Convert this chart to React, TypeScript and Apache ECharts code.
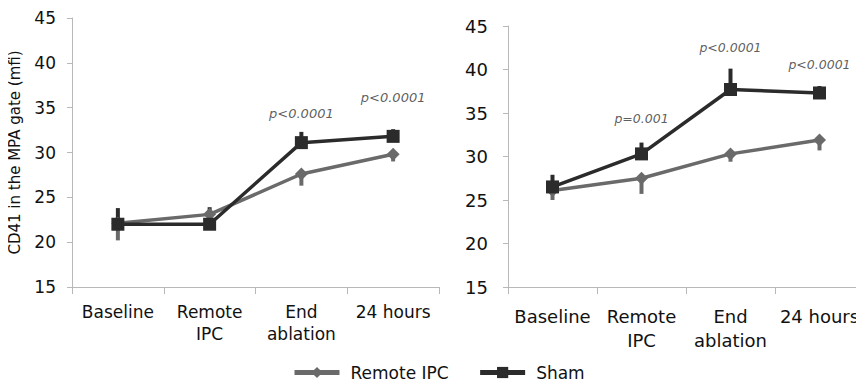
import React, { useEffect, useRef } from "react";
import * as echarts from "echarts";

const categories = ["Baseline", "Remote\nIPC", "End\nablation", "24 hours"];
const yTicks = { min: 15, max: 45, interval: 5 };

// Left panel
const leftRemote = [22.1, 23.1, 27.6, 29.8];
const leftRemoteErrMinus = [1.9, 0.4, 1.3, 0.8];
const leftSham = [22.0, 22.0, 31.1, 31.8];
const leftShamErrPlus = [1.8, 1.9, 1.2, 0.8];
const leftPLabels = ["", "", "p<0.0001", "p<0.0001"];
const leftPLabelY = [0, 0, 34.4, 36.1];

// Right panel
const rightRemote = [26.1, 27.5, 30.3, 31.9];
const rightRemoteErrMinus = [1.1, 1.8, 0.9, 1.2];
const rightSham = [26.5, 30.3, 37.7, 37.3];
const rightShamErrPlus = [1.4, 1.3, 2.4, 0.8];
const rightPLabels = ["", "p=0.001", "p<0.0001", "p<0.0001"];
const rightPLabelY = [0, 34.4, 42.5, 40.6];

const REMOTE_COLOR = "#6a6a6a";
const SHAM_COLOR = "#2b2b2b";
const AXIS_COLOR = "#b8b8b8";

function errData(vals: number[], errs: number[], sign: number) {
  return vals.map((v, i) => [i, v, v + sign * errs[i]]);
}

function errSeries(data: number[][], color: string, gi: number) {
  return {
    type: "custom",
    xAxisIndex: gi,
    yAxisIndex: gi,
    silent: true,
    z: 1,
    renderItem: (params: any, api: any) => {
      const p1 = api.coord([api.value(0), api.value(1)]);
      const p2 = api.coord([api.value(0), api.value(2)]);
      return {
        type: "line",
        shape: { x1: p1[0], y1: p1[1], x2: p2[0], y2: p2[1] },
        style: { stroke: color, lineWidth: 4 },
      };
    },
    data,
  };
}

function pSeries(labels: string[], ys: number[], gi: number, fs: number) {
  return {
    type: "scatter",
    xAxisIndex: gi,
    yAxisIndex: gi,
    symbolSize: 0,
    silent: true,
    data: labels
      .map((t, i) => ({ value: [i, ys[i]], name: t }))
      .filter((d) => d.name !== ""),
    label: {
      show: true,
      position: "inside",
      formatter: (p: any) => p.name,
      fontStyle: "italic",
      fontSize: fs,
      color: "#333",
      fontFamily: "DejaVu Sans",
    },
  };
}

export default function App() {
  const ref = useRef<HTMLDivElement>(null);
  useEffect(() => {
    if (!ref.current) return;
    const chart = echarts.init(ref.current, undefined, { renderer: "svg" });
    const xAxisBase = (gi: number, fs: number, margin: number, lh: number) => ({
      type: "category",
      gridIndex: gi,
      data: categories,
      boundaryGap: true,
      axisLine: { show: true, lineStyle: { color: AXIS_COLOR, width: 1 } },
      axisTick: { show: true, length: 7, lineStyle: { color: AXIS_COLOR } },
      axisLabel: {
        color: "#111",
        fontSize: fs,
        fontFamily: "DejaVu Sans",
        margin,
        lineHeight: lh,
        interval: 0,
      },
      splitLine: { show: false },
    });
    const yAxisBase = (gi: number, fs: number, margin: number) => ({
      type: "value",
      gridIndex: gi,
      min: yTicks.min,
      max: yTicks.max,
      interval: yTicks.interval,
      axisLine: { show: true, lineStyle: { color: AXIS_COLOR, width: 1 } },
      axisTick: { show: true, length: 5, lineStyle: { color: AXIS_COLOR } },
      axisLabel: {
        color: "#111",
        fontSize: fs,
        fontFamily: "DejaVu Sans",
        margin,
      },
      splitLine: { show: false },
    });
    const lineSeries = (
      name: string,
      data: number[],
      gi: number,
      color: string,
      symbol: string,
      size: number
    ) => ({
      name,
      type: "line",
      xAxisIndex: gi,
      yAxisIndex: gi,
      data,
      symbol,
      symbolSize: size,
      z: 3,
      lineStyle: { color, width: 3.5 },
      itemStyle: { color },
    });
    chart.setOption({
      animation: false,
      backgroundColor: "#fff",
      grid: [
        { left: 72, top: 18, width: 367, height: 269 },
        { left: 508, top: 26, width: 364, height: 261 },
      ],
      xAxis: [xAxisBase(0, 17, 14, 22), xAxisBase(1, 18, 17, 24)],
      yAxis: [
        {
          ...yAxisBase(0, 17, 16),
          name: "CD41 in the MPA gate (mfi)",
          nameLocation: "middle",
          nameGap: 50,
          nameRotate: 90,
          nameMoveOverlap: false,
          nameTextStyle: { fontSize: 15, color: "#111", fontFamily: "DejaVu Sans" },
        },
        yAxisBase(1, 18, 20),
      ],
      legend: {
        left: 292,
        top: 364,
        padding: 0,
        itemWidth: 45,
        itemHeight: 14,
        itemGap: 29,
        lineStyle: { width: 5 },
        textStyle: {
          fontSize: 17,
          color: "#111",
          fontFamily: "DejaVu Sans",
          padding: [0, 0, 0, 6],
        },
        data: ["Remote IPC", "Sham"],
      },
      series: [
        errSeries(errData(leftRemote, leftRemoteErrMinus, -1), REMOTE_COLOR, 0),
        errSeries(errData(leftSham, leftShamErrPlus, 1), SHAM_COLOR, 0),
        errSeries(errData(rightRemote, rightRemoteErrMinus, -1), REMOTE_COLOR, 1),
        errSeries(errData(rightSham, rightShamErrPlus, 1), SHAM_COLOR, 1),
        lineSeries("Remote IPC", leftRemote, 0, REMOTE_COLOR, "diamond", 13),
        lineSeries("Sham", leftSham, 0, SHAM_COLOR, "rect", 13),
        lineSeries("Remote IPC", rightRemote, 1, REMOTE_COLOR, "diamond", 13),
        lineSeries("Sham", rightSham, 1, SHAM_COLOR, "rect", 13),
        pSeries(leftPLabels, leftPLabelY, 0, 13),
        pSeries(rightPLabels, rightPLabelY, 1, 12.5),
      ],
    });
    return () => chart.dispose();
  }, []);
  return <div ref={ref} style={{ width: 864, height: 387, margin: -8 }} />;
}
